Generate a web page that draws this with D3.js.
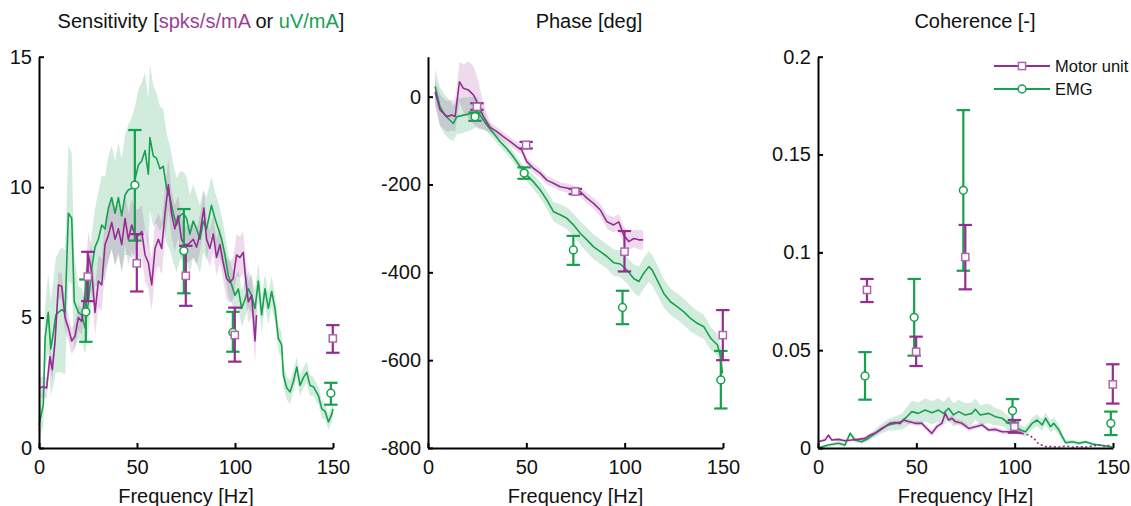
<!DOCTYPE html>
<html><head><meta charset="utf-8">
<script src="https://cdn.jsdelivr.net/npm/d3@7"></script>
<style>
body{margin:0;background:#fff}
svg{display:block}
text{font-family:"Liberation Sans",Arial,Helvetica,sans-serif}
</style>
</head><body>
<svg id="chart" width="1131" height="506"></svg>
<script>
// ---------------- data ----------------
const xTicks = [0, 50, 100, 150];
const xTickLabels = ["0", "50", "100", "150"];
const sensTicks = [0, 5, 10, 15];
const sensTickLabels = ["0", "5", "10", "15"];
const phaseTicks = [-800, -600, -400, -200, 0];
const phaseTickLabels = ["-800", "-600", "-400", "-200", "0"];
const cohTicks = [0, 0.05, 0.1, 0.15, 0.2];
const cohTickLabels = ["0", "0.05", "0.1", "0.15", "0.2"];
const seriesNames = ["Motor unit", "EMG"];

// Sensitivity - EMG
const sensEmgF = [0,2.2,3.1,4.7,6.0,7.3,8.6,9.9,11.6,13.3,15.0,16.7,18.0,20.1,21.8,23.5,25.2,26.9,28.6,30.3,32.0,33.7,35.4,37.1,38.8,40.5,42.2,43.9,45.6,47.3,49.0,50.7,52.4,54.1,55.8,56.6,58.3,60.0,61.7,63.4,65.1,66.8,68.5,70.2,71.9,73.6,75.3,77.0,78.7,80.4,82.1,83.8,85.5,88.0,89.8,91.5,93.2,94.9,96.6,98.3,100.0,101.7,103.4,105.1,106.8,108.5,110.2,111.9,113.6,115.3,117.0,118.7,120.4,122.1,123.8,124.7,126.4,128.1,129.8,131.5,133.2,134.9,136.6,138.3,140.0,142.6,144.3,146.0,147.7,149.4,150.0];
const sensEmgV = [0.88,1.65,4.2,5.2,3.8,4.4,5.1,5.2,5.3,5.2,9.0,8.8,5.6,5.2,5.1,4.6,5.6,6.9,7.7,8.0,8.55,8.4,9.2,9.6,9.0,9.6,8.9,9.7,9.9,9.95,10.3,10.85,11.0,11.4,10.5,11.9,11.2,11.1,10.7,10.8,9.95,9.6,9.0,8.55,8.9,9.0,8.8,8.2,8.7,8.4,8.0,8.7,8.4,9.3,8.8,8.4,8.0,7.4,6.6,6.25,5.85,6.1,5.35,5.7,6.1,5.85,5.35,6.4,5.1,6.1,5.35,6.0,5.35,4.2,3.95,2.8,2.3,2.15,2.55,3.1,2.4,2.7,2.9,2.4,2.35,2.0,1.5,1.4,1.0,1.3,1.5];
const sensEmgHW = [0.6,0.8,1.2,1.5,1.8,2.0,2.2,2.3,2.4,2.4,2.6,2.5,1.8,1.0,1.0,1.0,1.1,1.3,1.5,1.8,1.9,2.0,2.0,2.0,2.0,2.1,2.2,2.3,2.5,2.7,2.8,2.9,3.0,3.0,2.9,2.8,2.7,2.5,2.4,2.2,2.1,2.0,1.9,1.8,1.7,1.6,1.6,1.5,1.4,1.3,1.3,1.2,1.2,1.1,1.0,1.0,0.9,0.8,0.8,0.7,0.7,0.7,0.7,0.7,0.7,0.7,0.7,0.7,0.7,0.6,0.6,0.6,0.5,0.5,0.5,0.45,0.45,0.45,0.4,0.4,0.4,0.4,0.4,0.4,0.35,0.35,0.35,0.3,0.3,0.3,0.3];

// Sensitivity - Motor unit
const sensMuF = [0,2.2,3.9,5.6,6.8,8.2,9.9,11.6,13.3,15.0,16.7,18.4,20.1,21.8,23.5,25.2,26.9,28.6,30.3,32.0,33.7,35.4,37.1,38.8,40.5,42.2,43.9,45.6,47.3,49.0,50.7,52.4,54.1,55.8,57.5,59.2,60.9,62.6,64.3,66.0,67.6,69.3,71.0,72.7,74.4,76.1,78.7,80.4,82.1,84.1,85.5,87.2,88.9,90.6,92.3,94.0,95.7,97.4,99.1,100.8,102.5,104.2,105.3,106.8,108.5,110.2,111.0];
const sensMuV = [2.3,2.35,2.3,3.5,3.0,4.1,6.25,6.2,5.0,4.6,4.1,4.3,5.0,4.85,5.85,7.4,6.75,5.2,6.4,6.25,7.8,8.15,8.65,8.0,8.4,7.8,8.8,8.0,8.55,8.15,8.15,8.3,7.4,7.1,6.25,7.65,8.0,7.65,9.0,10.1,9.0,8.4,8.9,8.0,7.8,7.8,8.0,7.7,8.2,9.2,8.0,7.65,8.2,7.3,7.8,7.1,6.5,6.35,6.5,7.4,7.3,7.5,6.6,5.6,5.85,4.1,5.1];
const sensMuHW = [0.4,0.4,0.4,0.4,0.4,0.4,0.5,0.5,0.5,0.5,0.5,0.5,0.5,0.5,0.8,0.9,0.9,0.9,1.0,1.0,1.0,1.0,1.0,1.0,1.0,1.0,1.0,1.0,1.0,1.0,1.0,1.0,1.0,1.0,1.0,1.0,1.0,1.0,1.0,1.0,0.9,0.9,0.8,0.8,0.7,0.7,0.7,0.7,0.7,0.7,0.7,0.7,0.7,0.7,0.7,0.7,0.8,0.8,0.8,0.8,0.8,0.8,0.8,0.8,0.8,0.8,0.8];

// Phase - EMG
const phaseEmgF = [3.6,6.1,8.6,10.8,12.9,14.6,18.0,21.4,24.7,26.4,29.8,33.2,36.6,40.0,43.4,46.8,50.2,53.6,57.0,60.4,63.8,67.2,70.6,74.0,77.4,80.8,84.2,87.6,91.0,94.4,97.8,101.2,104.6,107.2,109.7,112.3,114.0,116.5,119.9,123.3,126.7,130.1,133.5,136.9,140.3,143.7,147.1,148.8,149.7];
const phaseEmgV = [23,-23,-42,-52,-61,-46,-42,-39,-34,-42,-64,-83,-102,-118,-137,-159,-178,-194,-212,-235,-262,-269,-277,-292,-311,-326,-342,-353,-364,-378,-381,-395,-414,-421,-402,-387,-395,-417,-448,-467,-478,-490,-505,-516,-524,-550,-565,-592,-630];
const phaseEmgHW = [40,45,45,45,40,40,40,38,35,30,15,12,12,12,12,12,14,16,18,20,22,24,25,26,27,28,28,28,28,30,30,30,32,34,35,35,35,34,32,30,30,30,30,28,28,26,25,24,22];

// Phase - Motor unit
const phaseMuF = [3.6,6.1,9.5,12.0,13.8,16.0,18.0,20.6,23.1,25.6,28.1,31.5,34.9,38.3,41.7,45.1,47.6,50.2,53.6,57.0,60.4,63.8,67.2,70.6,74.0,77.4,80.8,84.2,87.6,91.0,94.4,97.0,99.5,102.1,104.6,107.2,109.4];
const phaseMuV = [11,-30,-45,-42,-45,34,19,15,4,-19,-45,-70,-79,-91,-102,-114,-121,-148,-163,-174,-190,-197,-205,-208,-212,-216,-231,-243,-258,-285,-292,-285,-315,-330,-323,-326,-326];
const phaseMuHW = [30,35,35,35,35,45,55,65,65,55,30,12,10,10,10,10,10,10,10,10,10,10,10,10,10,10,12,12,14,16,18,18,20,20,20,22,22];

// Coherence - EMG
const cohEmgF = [0,5.3,10.4,13.7,16.3,18.8,22.2,25.6,29.0,32.4,35.8,39.2,42.6,45.2,47.7,51.1,54.5,57.9,61.3,63.8,66.4,68.9,71.5,74.9,78.3,80.0,82.5,86.8,90.2,93.6,97.0,100.4,103.0,105.5,108.9,111.4,114.0,115.7,118.2,119.9,122.5,124.2,125.9,129.3,132.7,136.1,139.5,142.9,146.3,149.7];
const cohEmgV = [0,0.0015,0.0024,0.0015,0.0075,0.0041,0.0032,0.0049,0.0075,0.010,0.0118,0.0126,0.0135,0.016,0.0186,0.0177,0.0194,0.018,0.0194,0.0177,0.0203,0.0169,0.0186,0.0169,0.0177,0.0198,0.0169,0.0177,0.016,0.0152,0.0126,0.0109,0.0092,0.0083,0.0126,0.0143,0.0118,0.0152,0.0109,0.0126,0.0092,0.0058,0.0027,0.0032,0.0024,0.0032,0.002,0.0015,0.001,0.0005];
const cohEmgHW = [0.0005,0.0008,0.001,0.001,0.0012,0.0012,0.0012,0.0015,0.002,0.0025,0.003,0.0035,0.004,0.005,0.0055,0.0055,0.006,0.006,0.006,0.006,0.006,0.006,0.006,0.006,0.0055,0.0055,0.005,0.005,0.0045,0.004,0.0035,0.003,0.0025,0.0025,0.003,0.003,0.003,0.003,0.003,0.003,0.0025,0.002,0.0012,0.001,0.001,0.0008,0.0008,0.0006,0.0005,0.0005];

// Coherence - Motor unit (solid part, then dotted part)
const cohMuF = [0,3.6,5.3,7.0,10.4,13.7,17.1,20.5,23.9,26.4,29.0,31.5,34.1,36.6,39.2,41.7,43.4,46.0,49.4,52.8,55.3,57.9,60.4,63.0,64.7,66.4,68.1,69.8,73.2,76.6,80.0,83.4,86.8,90.2,93.6,97.0,100.4,103.8];
const cohMuV = [0.0032,0.0041,0.0066,0.0041,0.0044,0.0037,0.0041,0.0044,0.0049,0.0066,0.0075,0.0092,0.0109,0.0126,0.013,0.0126,0.0143,0.0135,0.0126,0.0126,0.010,0.0075,0.0109,0.0126,0.0177,0.0143,0.0152,0.0135,0.0126,0.010,0.0109,0.0118,0.0092,0.0095,0.0083,0.0083,0.0083,0.0075];
const cohMuHW = [0.0008,0.0008,0.0008,0.0008,0.0008,0.0008,0.0008,0.0008,0.0008,0.0008,0.0012,0.0012,0.0012,0.0012,0.0012,0.0012,0.0012,0.0012,0.0012,0.0012,0.0015,0.0015,0.0015,0.0015,0.0015,0.0015,0.0015,0.0015,0.0015,0.0015,0.0012,0.0012,0.0012,0.0012,0.0012,0.0012,0.0012,0.0012];
const cohMuDotF = [103.8,107.2,109.8,112.3,115.7,119.1,122.5,125.9,129.3,132.7,136.1,139.5,142.9,146.3,148.8];
const cohMuDotV = [0.0075,0.0066,0.0049,0.002,0.0007,0.0007,0.0005,0.001,0.0005,0.0007,0.0005,0.001,0.0015,0.001,0.0015];

// Error bars (nominal frequencies)
const ebFreq = [25, 50, 75, 100, 150];
const sensMuEbV  = [6.57, 7.08, 6.6, 4.33, 4.2];
const sensMuEbLo = [5.63, 6.0, 5.45, 3.31, 3.65];
const sensMuEbHi = [7.52, 8.2, 7.75, 5.38, 4.71];
const sensEmgEbV  = [5.22, 10.08, 7.56, 4.43, 2.1];
const sensEmgEbLo = [4.07, 7.95, 5.93, 3.69, 1.66];
const sensEmgEbHi = [6.46, 12.19, 9.16, 5.22, 2.5];
const phaseMuEbV  = [-23, -110, -216, -353, -543];
const phaseMuEbLo = [-30, -118, -222, -398, -600];
const phaseMuEbHi = [-15, -103, -210, -306, -486];
const phaseEmgEbV  = [-45.5, -174, -349, -480, -645];
const phaseEmgEbLo = [-55, -187, -383, -518, -710];
const phaseEmgEbHi = [-36, -161, -317, -442, -579];
const cohMuEbV  = [0.0808, 0.0492, 0.0976, 0.0109, 0.0325];
const cohMuEbLo = [0.0746, 0.0419, 0.0811, 0.0078, 0.0227];
const cohMuEbHi = [0.0864, 0.0569, 0.114, 0.0143, 0.0428];
const cohEmgEbV  = [0.0368, 0.0668, 0.1317, 0.0191, 0.0126];
const cohEmgEbLo = [0.0247, 0.0472, 0.0906, 0.013, 0.0066];
const cohEmgEbHi = [0.049, 0.0864, 0.1727, 0.025, 0.0186];

// ---------------- style ----------------
const MU = "#952c92", MU_MARK = "#b066ad", EMG = "#17a04e";
const MU_BAND = "rgba(149,44,146,0.17)", EMG_BAND = "rgba(23,160,78,0.2)";
const FONT = '"Liberation Sans", Arial, Helvetica, sans-serif';
const TOP = 56.7, BOTTOM = 448;
const EMG_OFF = -1.1, MU_OFF = -0.1;

const zip = (f, v, hw) => f.map((d, i) => ({f: d, v: v[i], hw: hw ? hw[i] : 0}));

const panels = [
  {x0: 39, x1: 333, yDom: [0, 15], ticks: sensTicks, labels: sensTickLabels, titleX: 201,
   title: [["Sensitivity [", "#111"], ["spks/s/mA", "#9a3f97"], [" or ", "#111"], ["uV/mA", "#21a055"], ["]", "#111"]],
   emg: zip(sensEmgF, sensEmgV, sensEmgHW), mu: zip(sensMuF, sensMuV, sensMuHW), muDot: null,
   ebEmg: [sensEmgEbV, sensEmgEbLo, sensEmgEbHi], ebMu: [sensMuEbV, sensMuEbLo, sensMuEbHi]},
  {x0: 428, x1: 723, yDom: [-800, 91], ticks: phaseTicks, labels: phaseTickLabels, titleX: 589,
   title: [["Phase [deg]", "#111"]],
   emg: zip(phaseEmgF, phaseEmgV, phaseEmgHW), mu: zip(phaseMuF, phaseMuV, phaseMuHW), muDot: null,
   ebEmg: [phaseEmgEbV, phaseEmgEbLo, phaseEmgEbHi], ebMu: [phaseMuEbV, phaseMuEbLo, phaseMuEbHi]},
  {x0: 818, x1: 1113, yDom: [0, 0.2], ticks: cohTicks, labels: cohTickLabels, titleX: 975,
   title: [["Coherence [-]", "#111"]],
   emg: zip(cohEmgF, cohEmgV, cohEmgHW), mu: zip(cohMuF, cohMuV, cohMuHW), muDot: zip(cohMuDotF, cohMuDotV),
   ebEmg: [cohEmgEbV, cohEmgEbLo, cohEmgEbHi], ebMu: [cohMuEbV, cohMuEbLo, cohMuEbHi]}
];

const svg = d3.select("#chart");

function drawSquare(g, cx, cy) {
  g.append("rect").attr("x", cx - 3.6).attr("y", cy - 3.6).attr("width", 7.2).attr("height", 7.2)
    .attr("fill", "#fff").attr("stroke", MU_MARK).attr("stroke-width", 1.5);
}
function drawCircle(g, cx, cy) {
  g.append("circle").attr("cx", cx).attr("cy", cy).attr("r", 3.9)
    .attr("fill", "#fff").attr("stroke", EMG).attr("stroke-width", 1.5);
}

panels.forEach(p => {
  const x = d3.scaleLinear([0, 150], [p.x0, p.x1]);
  const y = d3.scaleLinear(p.yDom, [BOTTOM, TOP]);
  const g = svg.append("g");

  const area = d3.area().x(d => x(d.f)).y0(d => y(d.v - d.hw)).y1(d => y(d.v + d.hw));
  const line = d3.line().x(d => x(d.f)).y(d => y(d.v));

  // bands
  g.append("path").datum(p.emg).attr("d", area).attr("fill", EMG_BAND);
  g.append("path").datum(p.mu).attr("d", area).attr("fill", MU_BAND);
  // lines
  g.append("path").datum(p.emg).attr("d", line).attr("fill", "none").attr("stroke", EMG)
    .attr("stroke-width", 1.6).attr("stroke-linejoin", "round");
  g.append("path").datum(p.mu).attr("d", line).attr("fill", "none").attr("stroke", MU)
    .attr("stroke-width", 1.6).attr("stroke-linejoin", "round");
  if (p.muDot) {
    g.append("path").datum(p.muDot).attr("d", line).attr("fill", "none").attr("stroke", MU)
      .attr("stroke-width", 1.6).attr("stroke-dasharray", "2,2.5");
  }

  // error bars
  const drawEb = (eb, off, color) => {
    ebFreq.forEach((f, i) => {
      const cx = x(f + off), lo = y(eb[1][i]), hi = y(eb[2][i]);
      const e = g.append("g").attr("stroke", color).attr("stroke-width", 2.2).attr("fill", "none");
      e.append("line").attr("x1", cx).attr("x2", cx).attr("y1", lo).attr("y2", hi);
      e.append("line").attr("x1", cx - 6.7).attr("x2", cx + 6.7).attr("y1", lo).attr("y2", lo);
      e.append("line").attr("x1", cx - 6.7).attr("x2", cx + 6.7).attr("y1", hi).attr("y2", hi);
    });
  };
  drawEb(p.ebEmg, EMG_OFF, EMG);
  drawEb(p.ebMu, MU_OFF, MU);
  ebFreq.forEach((f, i) => drawCircle(g, x(f + EMG_OFF), y(p.ebEmg[0][i])));
  ebFreq.forEach((f, i) => drawSquare(g, x(f + MU_OFF), y(p.ebMu[0][i])));

  // axes
  const ya = g.append("g").attr("transform", `translate(${p.x0},0)`)
    .call(d3.axisLeft(y).tickValues(p.ticks).tickFormat((d, i) => p.labels[i])
      .tickSizeInner(-5).tickSizeOuter(0).tickPadding(7));
  const xa = g.append("g").attr("transform", `translate(0,${BOTTOM})`)
    .call(d3.axisBottom(x).tickValues(xTicks).tickFormat((d, i) => xTickLabels[i])
      .tickSizeInner(-5).tickSizeOuter(0).tickPadding(12));
  [ya, xa].forEach(a => {
    a.attr("font-family", FONT).attr("font-size", 20);
    a.select(".domain").attr("stroke", "#000").attr("stroke-width", 2);
    a.selectAll(".tick line").attr("stroke", "#000").attr("stroke-width", 2);
    a.selectAll(".tick text").attr("fill", "#111");
  });

  // x label
  g.append("text").attr("x", (p.x0 + p.x1) / 2).attr("y", 503).attr("text-anchor", "middle")
    .attr("font-size", 20).attr("fill", "#111").text("Frequency [Hz]");
  // title
  const t = g.append("text").attr("x", p.titleX).attr("y", 28).attr("text-anchor", "middle")
    .attr("font-size", 20);
  p.title.forEach(([s, c]) => t.append("tspan").attr("fill", c).text(s));
});

// legend
const lg = svg.append("g");
[[seriesNames[0], MU, 66, "sq"], [seriesNames[1], EMG, 89, "ci"]].forEach(([name, c, ly, m]) => {
  lg.append("line").attr("x1", 994).attr("x2", 1050).attr("y1", ly).attr("y2", ly)
    .attr("stroke", c).attr("stroke-width", 1.8);
  if (m === "sq") drawSquare(lg, 1022, ly); else drawCircle(lg, 1022, ly);
  lg.append("text").attr("x", 1055).attr("y", ly).attr("dy", "0.36em").attr("font-size", 16.5)
    .attr("fill", "#111").text(name);
});
</script>
</body></html>
